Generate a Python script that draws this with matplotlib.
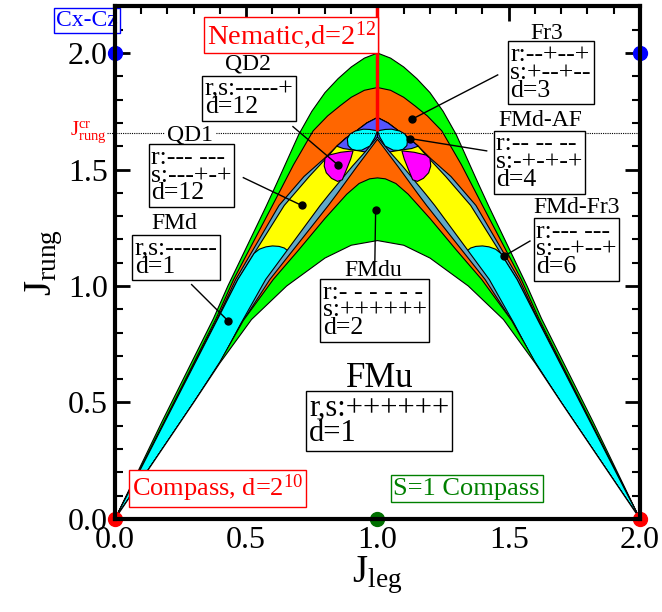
import numpy as np
import matplotlib
matplotlib.use("Agg")
import matplotlib.pyplot as plt
from matplotlib.ticker import MultipleLocator, FormatStrFormatter

plt.rcParams['font.family'] = ['Liberation Serif', 'DejaVu Serif']
plt.rcParams['mathtext.fontset'] = 'custom'
plt.rcParams['mathtext.rm'] = 'Liberation Serif'
plt.rcParams['mathtext.it'] = 'Liberation Serif:italic'

# --- phase boundaries, left half (J_leg <= 1); the diagram is mirror symmetric about J_leg = 1 ---
# outer green / white
b1_x = [0.0, 0.18, 0.375, 0.43, 0.575, 0.616, 0.70, 0.75, 0.80, 0.85, 0.90, 0.95, 1.0]
b1_y = [0.0, 0.42, 0.86, 1.0, 1.34, 1.44, 1.65, 1.75, 1.83, 1.89, 1.94, 1.978, 2.0]
# outer orange / green
b2_x = [0.0, 0.385, 0.452, 0.60, 0.68, 0.755, 0.81, 0.857, 0.90, 0.95, 1.0]
b2_y = [0.0, 0.86, 1.028, 1.346, 1.52, 1.666, 1.73, 1.773, 1.81, 1.84, 1.852]
# outer steel / orange
b2s_x = [0.0, 0.39, 0.46, 0.625, 0.72, 0.80, 0.845, 0.88, 0.92, 0.96, 1.0]
b2s_y = [0.0, 0.86, 1.028, 1.346, 1.47, 1.55, 1.60, 1.635, 1.666, 1.70, 1.723]
# yellow (QD1) / steel
b3_x = [0.0, 0.392, 0.468, 0.645, 0.74, 0.81, 0.845, 0.88, 0.92, 0.96, 1.0]
b3_y = [0.0, 0.86, 1.028, 1.346, 1.47, 1.555, 1.60, 1.635, 1.666, 1.70, 1.723]
# inner steel / yellow
b4_x = [0.0, 0.30, 0.40, 0.48, 0.574, 0.782, 0.816, 0.905, 0.955, 1.0]
b4_y = [0.0, 0.50, 0.67, 0.84, 1.028, 1.346, 1.394, 1.515, 1.578, 1.64]
# inner orange (V) / steel
b5_x = [0.0, 0.30, 0.40, 0.485, 0.59, 0.813, 0.845, 0.92, 1.0]
b5_y = [0.0, 0.50, 0.67, 0.845, 1.028, 1.346, 1.394, 1.51, 1.63]
# inner green / orange
b6_x = [0.0, 0.30, 0.40, 0.489, 0.603, 0.70, 0.80, 0.883, 0.93, 0.97, 1.0]
b6_y = [0.0, 0.50, 0.675, 0.852, 1.028, 1.155, 1.29, 1.394, 1.44, 1.46, 1.464]
# FMu (white) / inner green
b7_x = [0.0, 0.30, 0.40, 0.52, 0.654, 0.80, 0.90, 1.0]
b7_y = [0.0, 0.50, 0.67, 0.856, 1.0, 1.12, 1.175, 1.195]

# islands (left half)
fmd_x = [0.0, 0.392, 0.468, 0.519, 0.53, 0.55, 0.575, 0.60, 0.625, 0.645, 0.66, 0.66, 0.59, 0.485, 0.40, 0.30]
fmd_y = [0.0, 0.86, 1.028, 1.12, 1.14, 1.158, 1.168, 1.172, 1.17, 1.163, 1.15, 1.10, 1.028, 0.845, 0.67, 0.50]
cap_x = [0.845, 0.88, 0.92, 0.96, 1.0, 1.0, 0.97, 0.955, 0.93, 0.90, 0.87]
cap_y = [1.60, 1.635, 1.666, 1.70, 1.723, 1.50, 1.50, 1.575, 1.58, 1.585, 1.59]
qd2_x = [0.800, 0.815, 0.86, 0.907, 0.898, 0.882, 0.866, 0.848, 0.825, 0.805, 0.797]
qd2_y = [1.548, 1.562, 1.574, 1.580, 1.545, 1.50, 1.456, 1.449, 1.462, 1.486, 1.515]
lobe_x = [1.0, 0.97, 0.946, 0.915, 0.895, 0.885, 0.888, 0.902, 0.92, 0.94, 0.971, 0.99]
lobe_y = [1.666, 1.672, 1.673, 1.665, 1.652, 1.632, 1.603, 1.587, 1.582, 1.583, 1.601, 1.637]

# labels: (text, x, y)
names = [("Fr3", 1.645, 2.083), ("QD2", 0.505, 1.952), ("QD1", 0.287, 1.648),
         ("FMd", 0.225, 1.268), ("FMdu", 0.985, 1.066), ("FMd-AF", 1.62, 1.712),
         ("FMd-Fr3", 1.76, 1.335)]
boxes = [("r:--+--+\ns:+--+--\nd=3", 1.66, 1.915),
         ("r,s:-----+\nd=12", 0.511, 1.806),
         ("r:--- ---\ns:---+-+\nd=12", 0.291, 1.474),
         ("r,s:------\nd=1", 0.233, 1.121),
         ("r:- - - - - -\ns:++++++\nd=2", 0.99, 0.895),
         ("r:-- -- --\ns:-+-+-+\nd=4", 1.617, 1.532),
         ("r:--- ---\ns:--+--+\nd=6", 1.758, 1.157)]
# pointer lines: start (near box) -> dot in the phase
ptr_start = [(1.458, 1.906), (0.678, 1.684), (0.489, 1.465), (0.292, 1.006),
             (0.99, 1.105), (1.416, 1.58), (1.581, 1.193)]
ptr_dot = [(1.13, 1.715), (0.851, 1.518), (0.711, 1.346), (0.432, 0.849),
           (0.993, 1.326), (1.124, 1.633), (1.482, 1.128)]

j_rung_cr = 1.657
special_pts = [(0.0, 0.0, '#ff0000'), (2.0, 0.0, '#ff0000'), (1.0, 0.0, '#007000'),
               (0.0, 2.0, '#0000ff'), (2.0, 2.0, '#0000ff')]

c_green = '#00ff00'
c_orange = '#ff6600'
c_steel = '#62a8c8'
c_yellow = '#ffff00'
c_cyan = '#00ffff'
c_blue = '#5555ff'
c_magenta = '#ff00ff'


def full_curve(xs, ys):
    xs = np.asarray(xs, float)
    ys = np.asarray(ys, float)
    return np.concatenate([xs, 2 - xs[-2::-1]]), np.concatenate([ys, ys[-2::-1]])


def mirror(xs, ys):
    return 2 - np.asarray(xs, float), np.asarray(ys, float)


fig = plt.figure(figsize=(6.62, 6.12), dpi=100)
ax = fig.add_axes([0.1737, 0.152, 0.793, 0.8375])

def under(xs, ys, color, z):
    X, Y = full_curve(xs, ys)
    ax.fill(X, Y, facecolor=color, edgecolor='black', lw=0.8, zorder=z)

def island(xs, ys, color, z):
    ax.fill(xs, ys, facecolor=color, edgecolor='black', lw=0.8, zorder=z)
    mx, my = mirror(xs, ys)
    ax.fill(mx, my, facecolor=color, edgecolor='black', lw=0.8, zorder=z)

under(b1_x, b1_y, c_green, 1)
under(b2_x, b2_y, c_orange, 2)
under(b2s_x, b2s_y, c_steel, 3)
under(b3_x, b3_y, c_yellow, 4)
island(fmd_x, fmd_y, c_cyan, 5)
island(cap_x, cap_y, c_blue, 5)
under(b4_x, b4_y, c_steel, 6)
under(b5_x, b5_y, c_orange, 7)
under(b6_x, b6_y, c_green, 8)
under(b7_x, b7_y, 'white', 9)
island(qd2_x, qd2_y, c_magenta, 10)
island(lobe_x, lobe_y, c_cyan, 10)

# nematic line and critical rung coupling
ax.plot([1.0, 1.0], [1.667, 2.2], color='red', lw=2.5, zorder=11, solid_capstyle='butt')
ax.plot([-0.03, 2.0], [j_rung_cr, j_rung_cr], color='black', ls=(0, (1.0, 1.0)), lw=0.8,
        zorder=11, clip_on=False)
ax.text(-0.03, j_rung_cr + 0.005, r'$\mathrm{J^{cr}_{rung}}$', color='red', fontsize=15,
        ha='right', va='center')

# pointers
for (sx, sy), (dx, dy) in zip(ptr_start, ptr_dot):
    ax.plot([sx, dx], [sy, dy], color='black', lw=1, zorder=12)
    ax.plot(dx, dy, 'o', color='black', ms=5, zorder=12)

for txt, x, y in names:
    bb = None
    if txt == "QD1":
        bb = dict(boxstyle='square,pad=0.1', fc='white', ec='none')
    ax.text(x, y, txt, fontsize=17, ha='center', va='center', zorder=14, bbox=bb)

for txt, x, y in boxes:
    ax.text(x, y, txt, fontsize=18.5, ha='center', va='center', multialignment='left',
            linespacing=0.76, zorder=14,
            bbox=dict(boxstyle='square,pad=0.1', fc='white', ec='black', lw=1))

ax.text(1.007, 0.605, "FMu", fontsize=25, ha='center', va='center', zorder=14)
ax.text(1.007, 0.42, "r,s:++++++\nd=1", fontsize=22, ha='center', va='center',
        multialignment='left', linespacing=0.8, zorder=14,
        bbox=dict(boxstyle='square,pad=0.1', fc='white', ec='black', lw=1))

ax.text(0.672, 2.077, r"Nematic,d=2$^{12}$", color='red', fontsize=20.5, ha='center', va='center',
        zorder=14, bbox=dict(boxstyle='square,pad=0.08', fc='white', ec='red', lw=1))
ax.text(0.39, 0.13, r"Compass, d=2$^{10}$", color='red', fontsize=19, ha='center', va='center',
        zorder=14, bbox=dict(boxstyle='square,pad=0.1', fc='white', ec='red', lw=1))
ax.text(1.34, 0.13, "S=1 Compass", color='#008000', fontsize=19, ha='center', va='center',
        zorder=14, bbox=dict(boxstyle='square,pad=0.1', fc='white', ec='#008000', lw=1))
ax.text(-0.107, 2.14, "Cx-Cz", color='blue', fontsize=17, ha='center', va='center',
        zorder=14, bbox=dict(boxstyle='square,pad=0.1', fc='white', ec='blue', lw=1))

for x, y, c in special_pts:
    ax.plot(x, y, 'o', color=c, ms=10, zorder=20, clip_on=False)

ax.set_xlim(0, 2)
ax.set_ylim(0, 2.2)
ax.xaxis.set_major_locator(MultipleLocator(0.5))
ax.xaxis.set_minor_locator(MultipleLocator(0.1))
ax.yaxis.set_major_locator(MultipleLocator(0.5))
ax.yaxis.set_minor_locator(MultipleLocator(0.1))
ax.xaxis.set_major_formatter(FormatStrFormatter('%.1f'))
ax.yaxis.set_major_formatter(FormatStrFormatter('%.1f'))
ax.tick_params(which='both', direction='in', top=True, right=True, labelsize=23)
ax.tick_params(which='major', length=11, width=2, pad=5)
ax.tick_params(which='minor', length=6, width=1.5)
for s in ax.spines.values():
    s.set_linewidth(3)
    s.set_zorder(30)

ax.set_xlabel(r'$\mathrm{J_{leg}}$', fontsize=28, labelpad=0)
ax.set_ylabel(r'$\mathrm{J_{rung}}$', fontsize=28, labelpad=2)

fig.savefig('out.png', dpi=100)
